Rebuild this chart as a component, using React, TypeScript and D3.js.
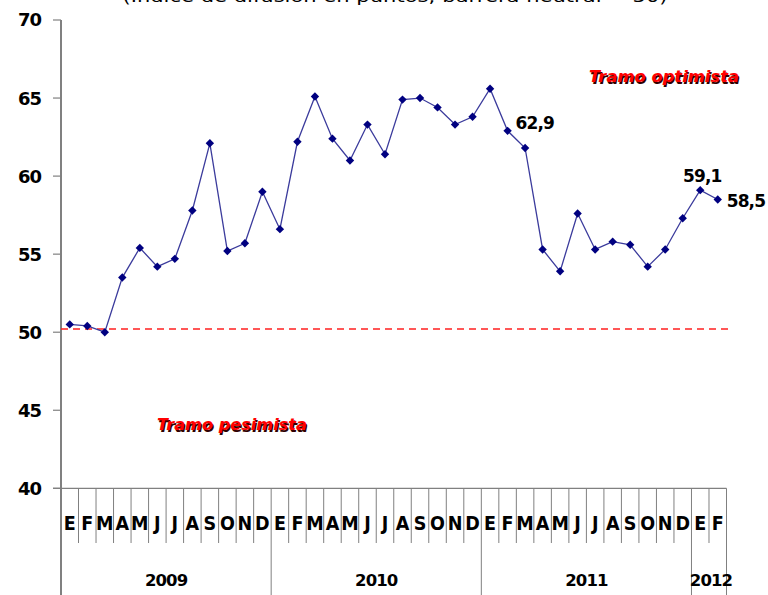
import React from 'react';
import * as d3 from 'd3';

const months: string[] = [
  'E','F','M','A','M','J','J','A','S','O','N','D',
  'E','F','M','A','M','J','J','A','S','O','N','D',
  'E','F','M','A','M','J','J','A','S','O','N','D',
  'E','F',
];
const years: string[] = ['2009', '2010', '2011', '2012'];
const monthsPerYear: number[] = [12, 12, 12, 2];
const values: number[] = [
  50.5, 50.4, 50.0, 53.5, 55.4, 54.2, 54.7, 57.8, 62.1, 55.2, 55.7, 59.0,
  56.6, 62.2, 65.1, 62.4, 61.0, 63.3, 61.4, 64.9, 65.0, 64.4, 63.3, 63.8,
  65.6, 62.9, 61.8, 55.3, 53.9, 57.6, 55.3, 55.8, 55.6, 54.2, 55.3, 57.3,
  59.1, 58.5,
];
const yTicks: number[] = [40, 45, 50, 55, 60, 65, 70];
const neutralLine = 50.2;
const pointLabels = [
  { idx: 25, text: '62,9', dx: 8, dy: -8, anchor: 'start' },
  { idx: 36, text: '59,1', dx: 2, dy: -14, anchor: 'middle' },
  { idx: 37, text: '58,5', dx: 9, dy: 1, anchor: 'start' },
];
const title = '(Índice de difusión en puntos; barrera neutral = 50)';

export default function App() {
  const W = 768, H = 595;
  const left = 61, right = 726.5, top = 20, bottom = 488.3;
  const x = d3.scaleBand<number>().domain(d3.range(values.length)).range([left, right]).padding(0);
  const y = d3.scaleLinear().domain([40, 70]).range([bottom, top]);
  const cx = (i: number) => (x(i) as number) + x.bandwidth() / 2;
  const line = d3.line<number>().x((_, i) => cx(i)).y(d => y(d));

  const yearStarts: number[] = [];
  let acc = 0;
  monthsPerYear.forEach(n => { yearStarts.push(acc); acc += n; });

  const r = 4.2;
  const diamond = `M0,${-r}L${r},0L0,${r}L${-r},0Z`;

  const sansB = '"DejaVu Sans", Verdana, sans-serif';
  const narrow = '"Liberation Sans Narrow", "Arial Narrow", "DejaVu Sans Condensed", sans-serif';

  return (
    <svg width={W} height={H} style={{ position: 'absolute', left: 0, top: 0, background: '#fff' }}>
      <text x={395} y={2} textAnchor="middle" fontFamily={sansB} fontSize={16}
        textLength={545} lengthAdjust="spacingAndGlyphs" fill="#000">{title}</text>

      {/* y axis */}
      <line x1={left} x2={left} y1={top} y2={H} stroke="#808080" strokeWidth={2} />
      {yTicks.map(t => (
        <g key={t}>
          <line x1={left - 8} x2={left} y1={y(t)} y2={y(t)} stroke="#808080" strokeWidth={1.2} />
          <text x={41} y={y(t)} dy="0.36em" textAnchor="end" fontFamily={sansB} fontWeight="bold"
            fontSize={18} letterSpacing={-1} fill="#000">{t}</text>
        </g>
      ))}

      {/* x axis */}
      <line x1={left - 8} x2={right} y1={bottom} y2={bottom} stroke="#808080" strokeWidth={1.2} />
      {months.map((m, i) => (
        <g key={i}>
          {i > 0 && !yearStarts.includes(i) && (
            <line x1={x(i) as number} x2={x(i) as number} y1={bottom} y2={543} stroke="#808080" strokeWidth={1} />
          )}
          <text x={cx(i)} y={523} dy="0.36em" textAnchor="middle" fontFamily={narrow} fontWeight="bold"
            fontSize={19.5} fill="#000">{m}</text>
        </g>
      ))}
      {yearStarts.slice(1).concat([values.length]).map(s => {
        const xx = s === values.length ? right : (x(s) as number);
        return <line key={s} x1={xx} x2={xx} y1={bottom} y2={H} stroke="#808080" strokeWidth={1} />;
      })}
      {years.map((yr, k) => {
        const s = yearStarts[k];
        const e = s + monthsPerYear[k];
        const x0 = x(s) as number;
        const x1 = e >= values.length ? right : (x(e) as number);
        return (
          <text key={yr} x={(x0 + x1) / 2 + (k === 3 ? 2 : 0)} y={580} dy="0.36em" textAnchor="middle"
            fontFamily={sansB} fontWeight="bold" fontSize={16.5} letterSpacing={-0.9} fill="#000">{yr}</text>
        );
      })}

      {/* neutral line */}
      <line x1={left} x2={733} y1={y(neutralLine)} y2={y(neutralLine)} stroke="#ff2020"
        strokeWidth={1.5} strokeDasharray="7,5" />

      {/* series */}
      <path d={line(values) as string} fill="none" stroke="#3b3b9c" strokeWidth={1.3} />
      {values.map((v, i) => (
        <path key={i} d={diamond} transform={`translate(${cx(i)},${y(v)})`} fill="#000080" />
      ))}

      {pointLabels.map(l => (
        <text key={l.idx} x={cx(l.idx) + l.dx} y={y(values[l.idx]) + l.dy} dy="0.36em"
          textAnchor={l.anchor as any} fontFamily={sansB} fontWeight="bold" fontSize={17}
          letterSpacing={-0.9} fill="#000">{l.text}</text>
      ))}

      {/* zone labels */}
      {[{ t: 'Tramo optimista', x0: 589, yy: 77 }, { t: 'Tramo pesimista', x0: 157, yy: 425 }].map(z => (
        <g key={z.t}>
          <text x={z.x0 + 1.2} y={z.yy + 1.2} dy="0.36em" fontFamily={sansB} fontWeight="bold" fontStyle="italic"
            fontSize={15} textLength={150} lengthAdjust="spacingAndGlyphs" fill="#300000">{z.t}</text>
          <text x={z.x0} y={z.yy} dy="0.36em" fontFamily={sansB} fontWeight="bold" fontStyle="italic"
            fontSize={15} textLength={150} lengthAdjust="spacingAndGlyphs" fill="#ff0000">{z.t}</text>
        </g>
      ))}
    </svg>
  );
}
